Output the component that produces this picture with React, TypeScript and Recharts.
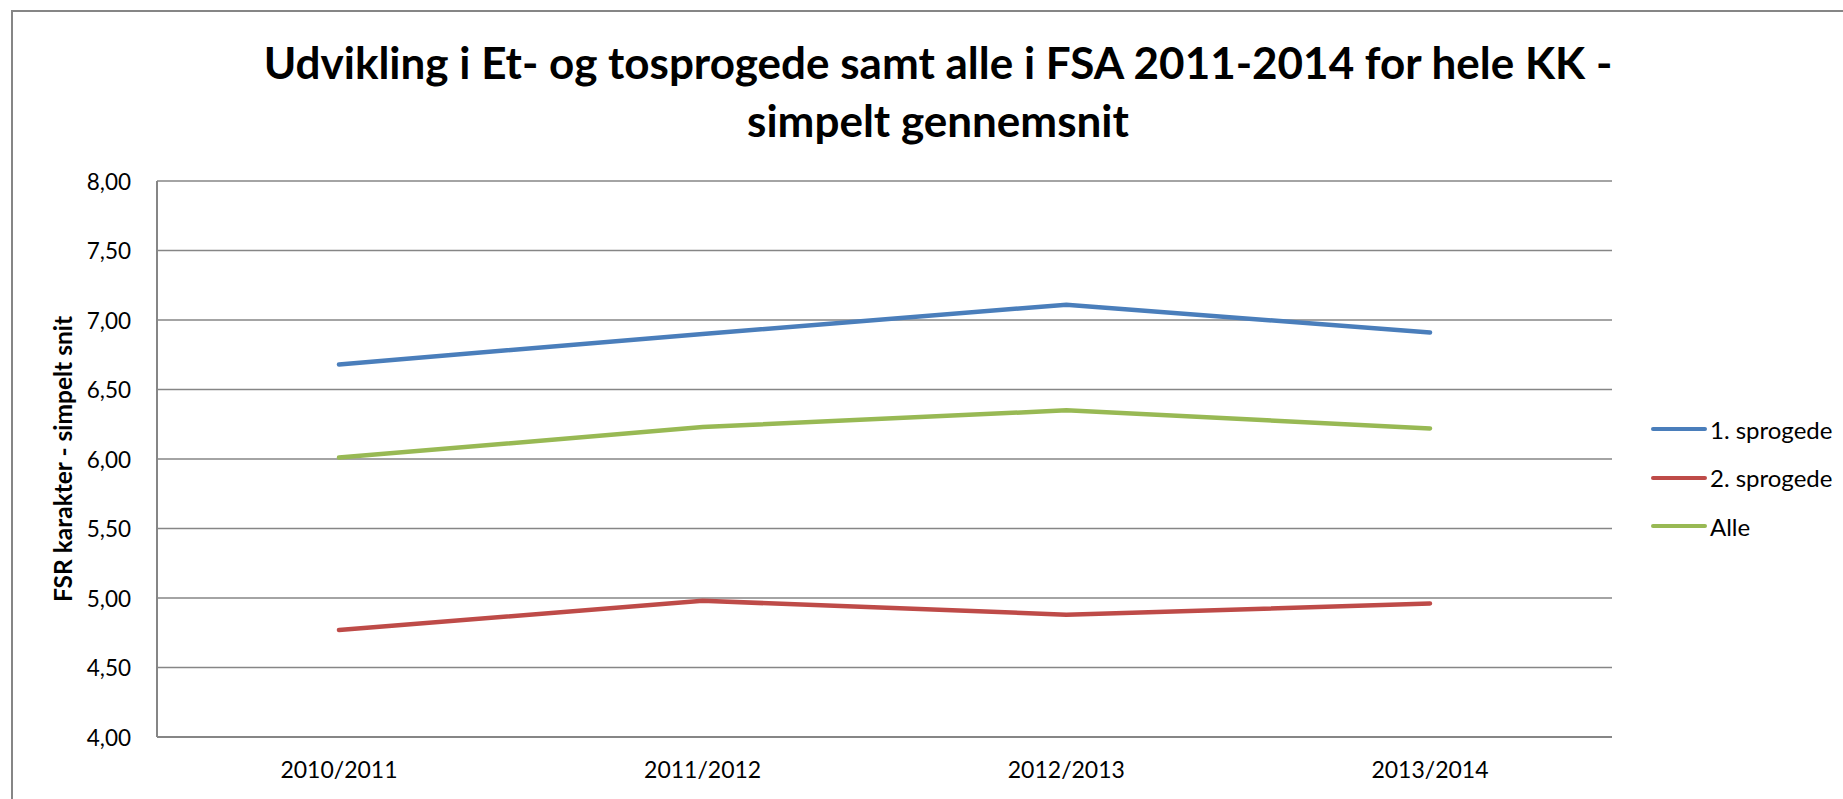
import { CartesianGrid, Legend, Line, LineChart, XAxis, YAxis } from "recharts";

const categories = ["2010/2011", "2011/2012", "2012/2013", "2013/2014"];
const etsprogede = [6.68, 6.9, 7.11, 6.91];
const tosprogede = [4.77, 4.98, 4.88, 4.96];
const alle = [6.01, 6.23, 6.35, 6.22];
const yTicks = [4, 4.5, 5, 5.5, 6, 6.5, 7, 7.5, 8];

const series = [
  { key: "et", name: "1. sprogede", color: "#4a7ebb" },
  { key: "to", name: "2. sprogede", color: "#be4b48" },
  { key: "alle", name: "Alle", color: "#98b954" },
];

const data = categories.map((category, i) => ({
  category,
  et: etsprogede[i],
  to: tosprogede[i],
  alle: alle[i],
}));

const FONT = "Lato, 'Open Sans', sans-serif";
const GRID = "#868686";

function formatTick(v: number): string {
  return v.toFixed(2).replace(".", ",");
}

function YTitle(props: any) {
  const vb = props.viewBox || {};
  const cy = (vb.y ?? 181) + (vb.height ?? 556) / 2;
  return (
    <text
      x={62}
      y={cy}
      transform={`rotate(-90, 62, ${cy})`}
      textAnchor="middle"
      dominantBaseline="central"
      fontFamily={FONT}
      fontWeight={700}
      fontSize={24.5}
      fill="#000"
    >
      FSR karakter - simpelt snit
    </text>
  );
}

// y tick: right edge of the label sits 26px left of the axis line
function YTick(props: any) {
  const { y, payload } = props;
  return (
    <text
      x={131}
      y={y}
      textAnchor="end"
      dominantBaseline="central"
      fontFamily={FONT}
      fontSize={22.5}
      fill="#000"
    >
      {formatTick(payload.value)}
    </text>
  );
}

function LegendBox() {
  return (
    <div style={{ fontFamily: FONT, fontSize: 24, color: "#000" }}>
      {series.map((s) => (
        <div key={s.key} style={{ height: 48.5, display: "flex", alignItems: "center" }}>
          <svg width={58} height={8} style={{ display: "block" }}>
            <line x1={3} y1={4} x2={55} y2={4} stroke={s.color} strokeWidth={4} strokeLinecap="round" />
          </svg>
          <span style={{ marginLeft: 2, whiteSpace: "nowrap" }}>{s.name}</span>
        </div>
      ))}
    </div>
  );
}

export default function App() {
  return (
    <div
      style={{
        position: "absolute",
        left: 0,
        top: 0,
        width: 1843,
        height: 799,
        overflow: "hidden",
        background: "#fff",
        fontFamily: FONT,
      }}
    >
      <div
        style={{
          position: "absolute",
          left: 11,
          top: 10,
          width: 1900,
          height: 900,
          border: `2px solid ${GRID}`,
        }}
      />
      <div
        style={{
          position: "absolute",
          left: 0,
          top: 33,
          width: 1876,
          textAlign: "center",
          fontSize: 44,
          lineHeight: "58px",
          fontWeight: 700,
          color: "#000",
          whiteSpace: "nowrap",
        }}
      >
        Udvikling i Et- og tosprogede samt alle i FSA 2011-2014 for hele KK -
        <br />
        simpelt gennemsnit
      </div>
      <div style={{ position: "absolute", left: 0, top: 0 }}>
        <LineChart
          width={1843}
          height={799}
          data={data}
          margin={{ top: 181, right: 231, bottom: 0, left: 0 }}
        >
          <CartesianGrid horizontal vertical={false} stroke={GRID} strokeWidth={1.5} />
          <XAxis
            dataKey="category"
            height={62}
            padding={{ left: 182, right: 182 }}
            axisLine={{ stroke: GRID, strokeWidth: 2 }}
            tickLine={false}
            tickSize={0}
            tickMargin={25}
            tick={{ fill: "#000", fontSize: 23, fontFamily: FONT }}
          />
          <YAxis
            width={157}
            domain={[4, 8]}
            ticks={yTicks}
            axisLine={{ stroke: GRID, strokeWidth: 2 }}
            tickLine={false}
            tickSize={0}
            tick={<YTick />}
            label={{ content: YTitle }}
          />
          <Legend
            layout="vertical"
            align="center"
            verticalAlign="middle"
            wrapperStyle={{ left: 1650, top: 405, width: 190 }}
            content={() => <LegendBox />}
          />
          {series.map((s) => (
            <Line
              key={s.key}
              type="linear"
              dataKey={s.key}
              name={s.name}
              stroke={s.color}
              strokeWidth={4.5}
              strokeLinecap="round"
              dot={false}
              activeDot={false}
              isAnimationActive={false}
            />
          ))}
        </LineChart>
      </div>
    </div>
  );
}
